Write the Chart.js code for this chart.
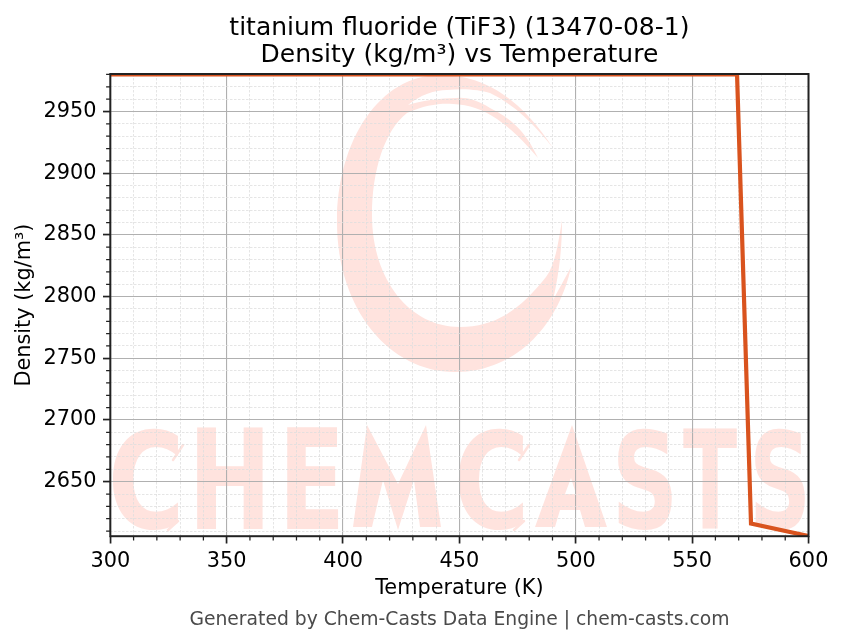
<!DOCTYPE html>
<html>
<head>
<meta charset="utf-8">
<style>html,body{margin:0;padding:0;background:#fff}#w{width:843px;height:644px}canvas{display:block}</style>
<script src="https://cdn.jsdelivr.net/npm/chart.js@4/dist/chart.umd.min.js"></script>
</head>
<body>
<div id="w"><canvas id="c" width="843" height="644"></canvas></div>
<script>
const temperatures = [300, 569.3, 575.3, 600];
const densities = [2980, 2980, 2616, 2606];
const xMajorTicks = [300, 350, 400, 450, 500, 550, 600];
const yMajorTicks = [2650, 2700, 2750, 2800, 2850, 2900, 2950];
const xMinorTicks = [310,320,330,340,360,370,380,390,410,420,430,440,460,470,480,490,510,520,530,540,560,570,580,590];
const yMinorTicks = [2610,2620,2630,2640,2660,2670,2680,2690,2710,2720,2730,2740,2760,2770,2780,2790,2810,2820,2830,2840,2860,2870,2880,2890,2910,2920,2930,2940,2960,2970,2980];
const titleLines = ['titanium fluoride (TiF3) (13470-08-1)', 'Density (kg/m³) vs Temperature'];
const xLabel = 'Temperature (K)';
const yLabel = 'Density (kg/m³)';
const footerText = 'Generated by Chem-Casts Data Engine | chem-casts.com';

const FONT = '"DejaVu Sans", sans-serif';
const WM = '#ffe3de';

function drawMark(ctx){
  ctx.fillStyle = WM;
  ctx.beginPath();
  ctx.moveTo(553,148);
  ctx.bezierCurveTo(525,105,490,75,440,75);
  ctx.bezierCurveTo(380,75,337,140,337,222);
  ctx.bezierCurveTo(337,310,390,372,455,372);
  ctx.bezierCurveTo(520,372,560,320,571,267);
  ctx.lineTo(553,300);
  ctx.bezierCurveTo(560,270,562,245,562,220);
  ctx.bezierCurveTo(558,245,555,265,546,277);
  ctx.bezierCurveTo(520,310,495,327,460,327);
  ctx.bezierCurveTo(410,327,372,280,372,215);
  ctx.bezierCurveTo(372,170,385,130,407,113);
  ctx.bezierCurveTo(425,105,440,103,453,104);
  ctx.bezierCurveTo(485,105,510,125,538,158);
  ctx.bezierCurveTo(525,130,510,118,490,108);
  ctx.bezierCurveTo(478,100,465,97,457,98);
  ctx.bezierCurveTo(440,98,420,101,408,105);
  ctx.bezierCurveTo(420,95,435,90,447,90);
  ctx.bezierCurveTo(465,88,480,90,490,93);
  ctx.bezierCurveTo(515,105,535,125,553,148);
  ctx.closePath();
  ctx.fill();
}
function poly(ctx, pts){
  ctx.beginPath();
  pts.forEach((p,i)=> i ? ctx.lineTo(p[0],p[1]) : ctx.moveTo(p[0],p[1]));
  ctx.closePath();
  ctx.fill();
}
function drawWord(ctx){
  const boxes = [['C',112,178],['H',197,263],['E',287,338],['C',458,523],['S',618,672],['T',683,737],['S',755,805]];
  const top = 427, bottom = 529;
  ctx.font = 'bold 100px ' + FONT;
  ctx.textBaseline = 'alphabetic';
  ctx.textAlign = 'left';
  ctx.fillStyle = WM;
  for (const [ch, l, r] of boxes){
    const m = ctx.measureText(ch);
    const w = m.actualBoundingBoxRight + m.actualBoundingBoxLeft;
    const h = m.actualBoundingBoxAscent + m.actualBoundingBoxDescent;
    ctx.save();
    ctx.translate(l, top);
    ctx.scale((r-l)/w, (bottom-top)/h);
    ctx.fillText(ch, m.actualBoundingBoxLeft, m.actualBoundingBoxAscent);
    ctx.restore();
  }
  // M and A have pointed apexes in the logo lettering
  poly(ctx, [[353,527],[367,425],[398,484],[426,425],[441,527],[420,527],[414,480],[398,530],[383,480],[372,527]]);
  ctx.beginPath();
  ctx.moveTo(572,425); ctx.lineTo(607,527); ctx.lineTo(585,527); ctx.lineTo(580,510);
  ctx.lineTo(560,510); ctx.lineTo(555,527); ctx.lineTo(535,527); ctx.closePath();
  ctx.moveTo(571,478); ctx.lineTo(565,494); ctx.lineTo(576,494); ctx.closePath();
  ctx.fill('evenodd');
  // brush streaks beside the two C letters
  ctx.lineCap = 'round';
  for (const dx of [0, 346]){
    ctx.strokeStyle = WM;
    ctx.lineWidth = 2.5;
    ctx.beginPath(); ctx.moveTo(173+dx,460); ctx.lineTo(183+dx,445); ctx.stroke();
    ctx.beginPath(); ctx.moveTo(168+dx,530); ctx.lineTo(178+dx,521); ctx.stroke();
    ctx.strokeStyle = '#fff';
    ctx.lineWidth = 2;
    ctx.beginPath(); ctx.moveTo(135+dx,477); ctx.quadraticCurveTo(138+dx,460,152+dx,453); ctx.stroke();
  }
}
const decor = {
  id: 'decor',
  beforeDraw(chart){
    const {ctx, chartArea:a} = chart;
    ctx.save();
    ctx.fillStyle = '#fff';
    ctx.fillRect(0,0,chart.width,chart.height);
    ctx.beginPath();
    ctx.rect(a.left,a.top,a.right-a.left,a.bottom-a.top);
    ctx.clip();
    drawMark(ctx);
    drawWord(ctx);
    ctx.restore();
  },
  afterDraw(chart){
    const {ctx, chartArea:a, scales} = chart;
    ctx.save();
    ctx.strokeStyle = '#222';
    ctx.lineWidth = 1.25;
    ctx.beginPath();
    for (const v of xMinorTicks){
      const p = scales.x.getPixelForValue(v);
      ctx.moveTo(p,a.bottom); ctx.lineTo(p,a.bottom+4.2);
    }
    for (const v of yMinorTicks){
      const p = scales.y.getPixelForValue(v);
      ctx.moveTo(a.left,p); ctx.lineTo(a.left-4.2,p);
    }
    ctx.stroke();
    ctx.lineWidth = 2;
    ctx.strokeRect(a.left,a.top,a.right-a.left,a.bottom-a.top);
    ctx.restore();
  }
};
function axis(majors, minors, min, max, label, tickPad, titlePad){
  const isMajor = v => majors.includes(v);
  return {
    type:'linear', min, max,
    afterBuildTicks(s){ s.ticks = majors.concat(minors).sort((a,b)=>a-b).map(v=>({value:v})); },
    border:{display:false, dash:c => (c.tick && isMajor(c.tick.value)) ? [] : [2.5,1.5]},
    grid:{
      color:c => (c.tick && isMajor(c.tick.value)) ? '#b0b0b0' : '#dedede',
      lineWidth:c => (c.tick && isMajor(c.tick.value)) ? 1.1 : 0.8,
      tickColor:c => (c.tick && isMajor(c.tick.value)) ? '#222' : 'rgba(0,0,0,0)',
      tickWidth:1.7, tickLength:7.3, drawTicks:true
    },
    ticks:{
      autoSkip:false, maxRotation:0, minRotation:0, padding:tickPad, color:'#000',
      font:{family:FONT,size:20.83},
      callback:v => isMajor(v) ? String(v) : ''
    },
    title:{display:true,text:label,color:'#000',font:{family:FONT,size:20.83},padding:titlePad}
  };
}
new Chart(document.getElementById('c'),{
  type:'line',
  data:{datasets:[{
    data:temperatures.map((x,i)=>({x,y:densities[i]})),
    borderColor:'#d9531e',borderWidth:4.2,pointRadius:0,tension:0,fill:false,
    borderJoinStyle:'miter',borderCapStyle:'butt'
  }]},
  options:{
    responsive:false,animation:false,
    layout:{padding:{left:12.5,right:34.5,top:14.5,bottom:13}},
    scales:{
      x:axis(xMajorTicks,xMinorTicks,300,600,xLabel,5.5,{top:-3.5,bottom:7.5}),
      y:axis(yMajorTicks,yMinorTicks,2605.8,2980.4,yLabel,6.5,{top:0,bottom:-0.5})
    },
    plugins:{
      legend:{display:false},tooltip:{enabled:false},
      title:{display:true,fullSize:false,text:titleLines,color:'#000',font:{family:FONT,size:25,weight:'normal',lineHeight:1.08},padding:{top:0,bottom:5.5}},
      subtitle:{display:true,fullSize:false,position:'bottom',text:footerText,color:'#4a4a4a',font:{family:FONT,size:18.75,weight:'normal'},padding:{top:0,bottom:0}}
    }
  },
  plugins:[decor]
});
</script>
</body>
</html>
